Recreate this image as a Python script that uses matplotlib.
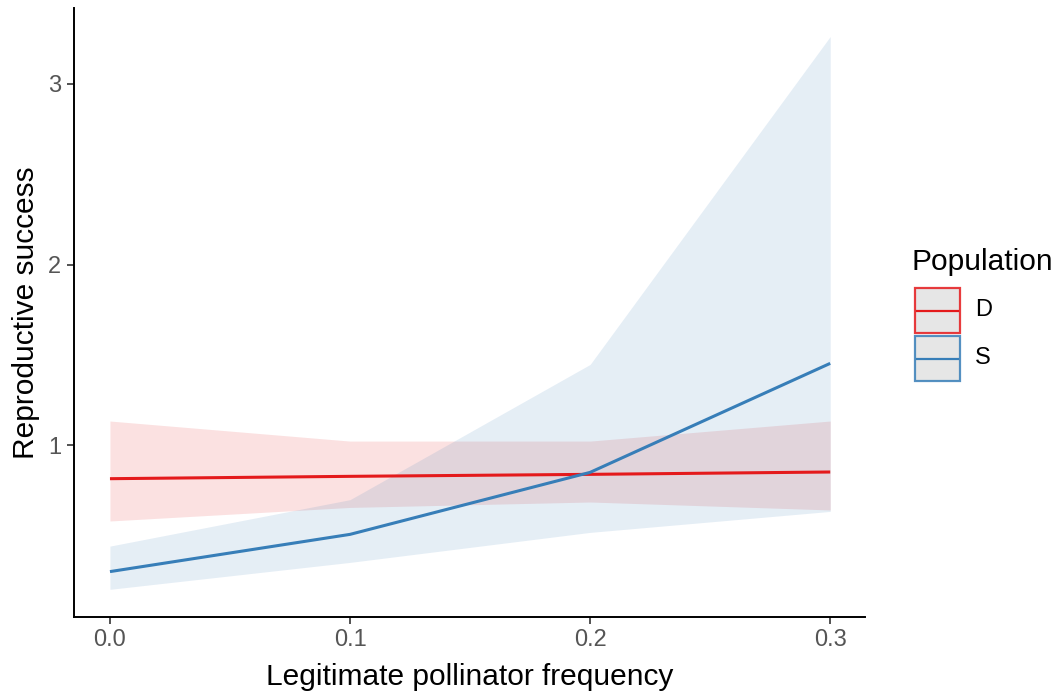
import matplotlib
matplotlib.use('Agg')
import matplotlib.pyplot as plt
from matplotlib.patches import Rectangle
from matplotlib.lines import Line2D
import numpy as np

# values
freq = [0.0, 0.1, 0.2, 0.3]
populations = ['D', 'S']
colors = {'D': '#E41A1C', 'S': '#377EB8'}
fit = {'D': [0.816, 0.829, 0.840, 0.853],
       'S': [0.302, 0.508, 0.851, 1.454]}
upper = {'D': [1.135, 1.024, 1.024, 1.135],
         'S': [0.443, 0.700, 1.448, 3.262]}
lower = {'D': [0.582, 0.657, 0.687, 0.643],
         'S': [0.204, 0.353, 0.519, 0.635]}
xticks = [0.0, 0.1, 0.2, 0.3]
xticklabels = ['0.0', '0.1', '0.2', '0.3']
yticks = [1, 2, 3]

plt.rcParams['font.family'] = ['Liberation Sans', 'DejaVu Sans']

fig = plt.figure(figsize=(10.58, 6.93), dpi=100)
ax = fig.add_axes([0.0699, 0.1097, 0.7477, 0.8788])

for p in populations:
    ax.fill_between(freq, lower[p], upper[p], color=colors[p], alpha=0.13, linewidth=0)
for p in populations:
    ax.plot(freq, fit[p], color=colors[p], linewidth=2.2, solid_capstyle='butt')

ax.set_xlim(-0.015, 0.3145)
ax.set_ylim(0.051, 3.42)
ax.set_xticks(xticks)
ax.set_xticklabels(xticklabels)
ax.set_yticks(yticks)
for s in ['top', 'right']:
    ax.spines[s].set_visible(False)
for s in ['left', 'bottom']:
    ax.spines[s].set_linewidth(1.4)
ax.tick_params(axis='both', length=5, width=1.2, color='#333333',
               labelsize=17, labelcolor='#555555', pad=4)
ax.set_xlabel('Legitimate pollinator frequency', fontsize=21.5, labelpad=8)
ax.set_ylabel('Reproductive success', fontsize=21.5, labelpad=6)

# legend drawn in figure pixels
W, H = 1058, 693
fig.text(912 / W, 1 - 262 / H, 'Population', fontsize=21.5, va='center', ha='left')
boxes = {'D': (288, 333), 'S': (336, 381)}
for p in populations:
    y0, y1 = boxes[p]
    fig.patches.append(Rectangle((915 / W, 1 - y1 / H), 45 / W, (y1 - y0) / H,
                                 transform=fig.transFigure, facecolor='#e2e2e2',
                                 edgecolor=colors[p], linewidth=1.6, alpha=0.85))
    ym = 1 - (y0 + y1) / 2 / H
    fig.lines.append(Line2D([917 / W, 958 / W], [ym, ym], transform=fig.transFigure,
                            color=colors[p], linewidth=1.6))
    fig.text(975 / W, ym, p, fontsize=17, va='center', ha='left')

fig.savefig('out.png', dpi=100)
